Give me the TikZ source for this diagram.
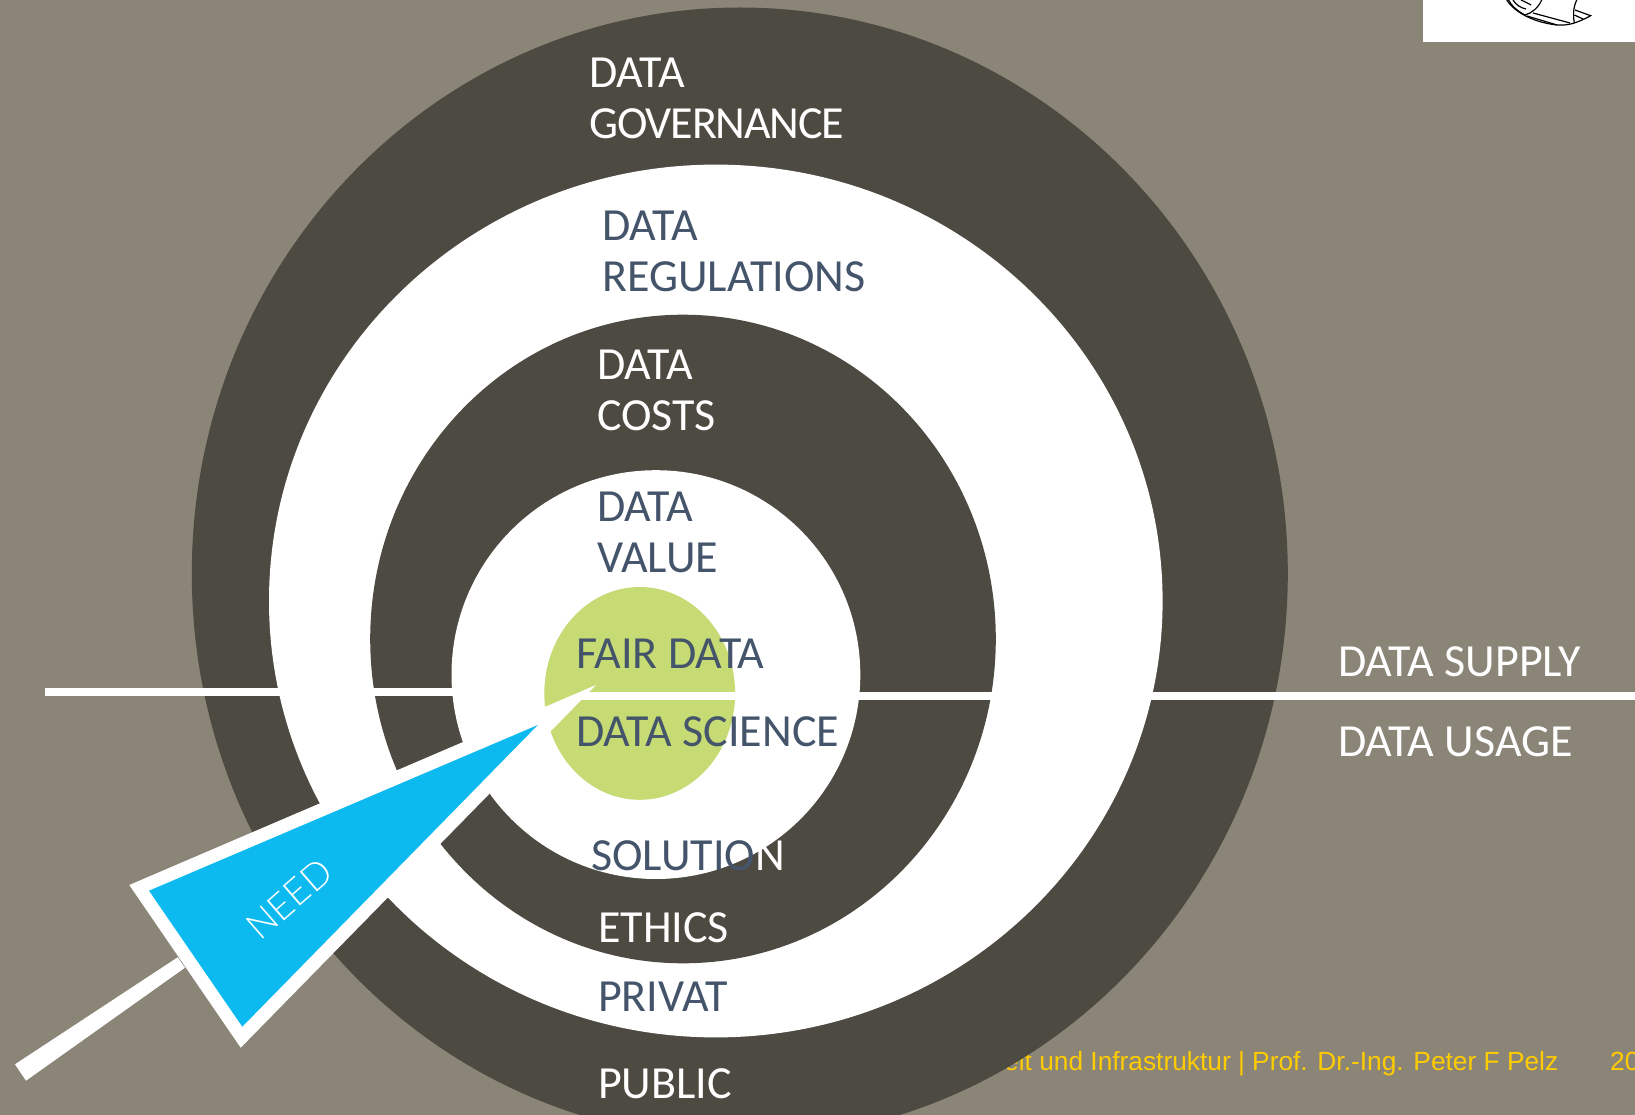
\documentclass[tikz,border=0pt]{standalone}
\usepackage{xcolor}
\usepackage{fontspec}
\setmainfont{Carlito}
\newfontfamily\footfont{Liberation Sans}
\newfontfamily\needfont{Lato}[UprightFont=* Light]
\definecolor{ground}{HTML}{8B8578}
\definecolor{ringdark}{HTML}{4D4A42}
\definecolor{inkslate}{HTML}{44546A}
\definecolor{fairgreen}{HTML}{C6DB74}
\definecolor{needblue}{HTML}{0DBAF0}
\definecolor{footyellow}{HTML}{FFCC00}
\tikzset{
  ringlabel/.style={anchor=north west, inner sep=0pt, align=left, font=\fontsize{46}{51}\selectfont, text=white},
  slatelabel/.style={ringlabel, text=inkslate},
  footlabel/.style={anchor=base west, inner sep=0pt, font=\footfont\fontsize{26.3}{30}\selectfont, text=footyellow},
  logoline/.style={black, line width=1.2pt}
}
\begin{document}
\begin{tikzpicture}[x=1pt,y=-1pt]
% page and background
\path[use as bounding box] (0,0) rectangle (1635,1115);
\clip (0,0) rectangle (1635,1115);
\fill[ground] (0,0) rectangle (1635,1115);
% footer lies under the rings
\node[footlabel] (footer) at (1004,1070) {eit und Infrastruktur | Prof. Dr.-Ing. Peter F Pelz};
\node[footlabel] (pageno) at (1610,1070) {20};
% logo corner
\fill[white] (1423,0) rectangle (1635,42);
\draw[logoline] (1506.7,0) .. controls (1513,10) and (1530,22) .. (1557,25) .. controls (1568,25.5) and (1575,24) .. (1590.7,15.7) -- (1575,10);
\draw[logoline] (1576.7,0) .. controls (1573,8) and (1573,15) .. (1574.3,23);
\draw[logoline] (1533,13) -- (1570,23);
\draw[logoline] (1527,16) -- (1557,25);
\draw[logoline] (1574.3,15) -- (1583,19);
\draw[logoline] (1541.7,0) .. controls (1538,8) and (1532,13) .. (1525,15) .. controls (1517,11) and (1511,5) .. (1508.5,0);
\draw[logoline] (1513,0) .. controls (1516,5) and (1521,8) .. (1526,9);
\draw[logoline] (1521,0) .. controls (1525,2) and (1528,3) .. (1531,5);
% rings
\def\ringlist{ringdark/739.8/573.5/548/566, white/715.8/601/446.8/436.4, ringdark/683/639/312.8/324.3, white/655.9/674.6/204.4/204.4}
\foreach \col/\cx/\cy/\rx/\ry in \ringlist {
    \fill[\col] (\cx,\cy) ellipse [x radius=\rx pt, y radius=\ry pt];
}
\fill[fairgreen] (639.7,693.4) ellipse [x radius=95.4pt, y radius=106.4pt];
% divider
\fill[white] (45.3,688) rectangle (460,696);
\fill[white] (580,692) rectangle (1635,699.7);
% arrow
\coordinate (shafta) at (15,1064.3);
\coordinate (shaftb) at (26,1080.7);
\coordinate (shaftc) at (185,967.7);
\coordinate (shaftd) at (177.7,957.3);
\fill[white] (shafta) -- (shaftb) -- (shaftc) -- (shaftd) -- cycle;
\fill[white] (129.3,885) -- (240.7,1047.7) -- (596,685) -- cycle;
\fill[needblue] (149,890.7) -- (242.3,1026.7) -- (537.8,725) -- cycle;
\node[anchor=center, inner sep=0pt, rotate=41, text=white, font=\needfont\fontsize{37}{37}\selectfont] (need) at (289.4,899) {NEED};
% ring labels
\node[ringlabel] (governance) at (589,58) {DATA\\\addfontfeatures{LetterSpace=-2.5}GOVERNANCE};
\node[slatelabel] (regulations) at (602,211) {DATA\\REGULATIONS};
\node[ringlabel] (costs) at (597,350) {DATA\\COSTS};
\node[slatelabel] (value) at (597,492) {DATA\\VALUE};
\node[slatelabel] (fair) at (576,639) {FAIR DATA};
\node[slatelabel] (science) at (576,716) {DATA SCIENCE};
\node[slatelabel] (solution) at (591,840) {SOLUTIO{\color{white}N}};
\node[ringlabel] (ethics) at (598,912) {ETHICS};
\node[slatelabel] (privat) at (598,982) {PRIVAT};
\node[ringlabel] (public) at (598,1068) {PUBLIC};
\node[ringlabel] (supply) at (1338,646) {DATA SUPPLY};
\node[ringlabel] (usage) at (1338,726) {DATA USAGE};
\end{tikzpicture}
\end{document}
